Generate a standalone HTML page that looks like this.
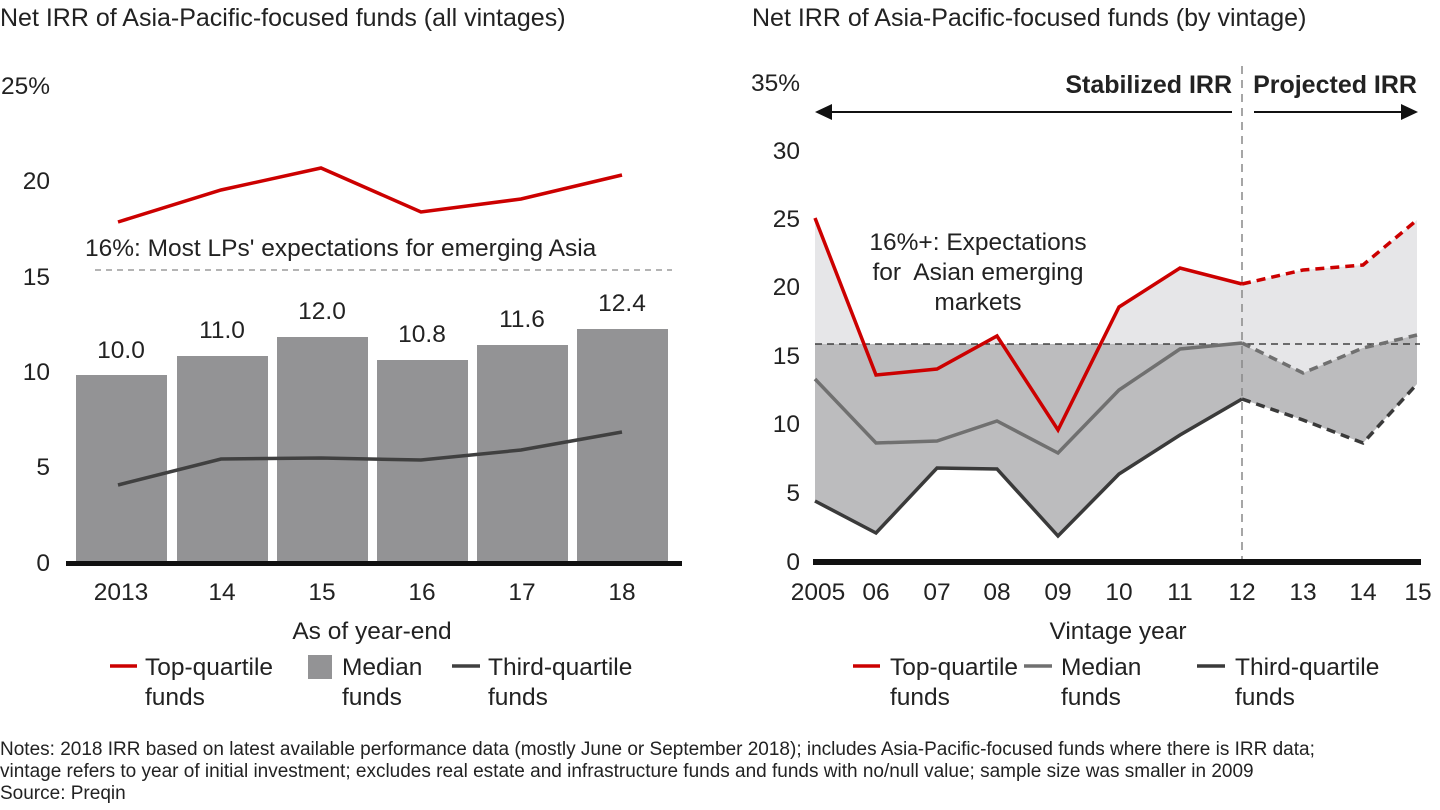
<!DOCTYPE html>
<html><head><meta charset="utf-8"><style>
html,body{margin:0;padding:0;background:#fff}
svg{display:block}
text{font-family:"Liberation Sans",Arial,sans-serif;fill:#222}
</style></head><body>
<svg width="1440" height="810" viewBox="0 0 1440 810" xmlns="http://www.w3.org/2000/svg">
<!-- Left chart -->
<text x="0" y="26" font-size="25">Net IRR of Asia-Pacific-focused funds (all vintages)</text>
<g font-size="24.5" text-anchor="end">
<text x="50" y="94">25%</text><text x="50" y="189">20</text><text x="50" y="285">15</text>
<text x="50" y="380">10</text><text x="50" y="475">5</text><text x="50" y="571">0</text>
</g>
<g fill="#939395">
<rect x="76" y="375" width="91" height="188"/><rect x="177" y="356" width="91" height="207"/>
<rect x="277" y="337" width="91" height="226"/><rect x="377" y="360" width="91" height="203"/>
<rect x="477" y="345" width="91" height="218"/><rect x="577" y="329" width="91" height="234"/>
</g>
<g font-size="24.5" text-anchor="middle">
<text x="121" y="358">10.0</text><text x="222" y="338">11.0</text><text x="322" y="319">12.0</text>
<text x="422" y="342">10.8</text><text x="522" y="327">11.6</text><text x="622" y="311">12.4</text>
</g>
<line x1="95" y1="270" x2="672" y2="270" stroke="#888" stroke-width="1.3" stroke-dasharray="6,5"/>
<text x="85" y="256" font-size="24.5">16%: Most LPs' expectations for emerging Asia</text>
<polyline points="118,222 221,190 321,168 421,212 521,199 622,175" fill="none" stroke="#cc0000" stroke-width="3.5"/>
<polyline points="118,485 221,459 321,458 421,460 521,450 622,432" fill="none" stroke="#404040" stroke-width="3.5"/>
<rect x="66" y="561" width="616" height="5" fill="#111"/>
<g font-size="24.5" text-anchor="middle">
<text x="121" y="600">2013</text><text x="222" y="600">14</text><text x="322" y="600">15</text>
<text x="422" y="600">16</text><text x="522" y="600">17</text><text x="622" y="600">18</text>
<text x="372" y="639">As of year-end</text>
</g>
<g font-size="24.5">
<line x1="110" y1="666" x2="137" y2="666" stroke="#cc0000" stroke-width="3.5"/>
<text x="145" y="675">Top-quartile</text><text x="145" y="705">funds</text>
<rect x="308" y="655" width="24" height="24" fill="#939395"/>
<text x="342" y="675">Median</text><text x="342" y="705">funds</text>
<line x1="452" y1="666" x2="480" y2="666" stroke="#404040" stroke-width="3.5"/>
<text x="488" y="675">Third-quartile</text><text x="488" y="705">funds</text>
</g>

<!-- Right chart -->
<text x="752" y="26" font-size="25">Net IRR of Asia-Pacific-focused funds (by vintage)</text>
<g font-size="24.5" text-anchor="end">
<text x="800" y="91">35%</text><text x="800" y="159">30</text><text x="800" y="227">25</text>
<text x="800" y="295">20</text><text x="800" y="364">15</text><text x="800" y="432">10</text>
<text x="800" y="501">5</text><text x="800" y="570">0</text>
</g>
<polygon points="815,218 876,375 937,369 997,336 1058,430 1119,307 1180,268 1242,284 1303,270 1363,265 1417,220 1417,384 1363,443 1303,420 1242,399 1180,435 1119,474 1058,536 997,469 937,468 876,533 815,501" fill="#e6e6e8"/>
<polygon points="815,344 1242,344 1303,373 1363,348 1417,335 1417,384 1363,443 1303,420 1242,399 1180,435 1119,474 1058,536 997,469 937,468 876,533 815,501" fill="#bcbcbe"/>
<line x1="815" y1="344" x2="1420" y2="344" stroke="#222" stroke-width="1.2" stroke-dasharray="7,5"/>
<line x1="1242" y1="66" x2="1242" y2="560" stroke="#888" stroke-width="1.5" stroke-dasharray="8,6"/>
<polyline points="815,218 876,375 937,369 997,336 1058,430 1119,307 1180,268 1242,284" fill="none" stroke="#cc0000" stroke-width="3.5"/>
<polyline points="1242,284 1303,270 1363,265 1417,220" fill="none" stroke="#cc0000" stroke-width="3.5" stroke-dasharray="9,6"/>
<polyline points="815,379 876,443 937,441 997,421 1058,453 1119,390 1180,349 1242,343" fill="none" stroke="#707070" stroke-width="3.5"/>
<polyline points="1242,343 1303,373 1363,348 1417,335" fill="none" stroke="#707070" stroke-width="3.5" stroke-dasharray="9,6"/>
<polyline points="815,501 876,533 937,468 997,469 1058,536 1119,474 1180,435 1242,399" fill="none" stroke="#3a3a3a" stroke-width="3.5"/>
<polyline points="1242,399 1303,420 1363,443 1417,384" fill="none" stroke="#3a3a3a" stroke-width="3.5" stroke-dasharray="9,6"/>
<rect x="813" y="559" width="608" height="6" fill="#111"/>
<text x="978" y="250" font-size="24.5" text-anchor="middle">16%+: Expectations</text>
<text x="978" y="280" font-size="24.5" text-anchor="middle" xml:space="preserve">for  Asian emerging</text>
<text x="978" y="310" font-size="24.5" text-anchor="middle">markets</text>
<text x="1232" y="93" font-size="25" font-weight="bold" text-anchor="end">Stabilized IRR</text>
<text x="1417" y="93" font-size="25" font-weight="bold" text-anchor="end">Projected IRR</text>
<line x1="828" y1="112" x2="1232" y2="112" stroke="#111" stroke-width="2"/>
<polygon points="815,112 832,104 832,120" fill="#111"/>
<line x1="1254" y1="112" x2="1404" y2="112" stroke="#111" stroke-width="2"/>
<polygon points="1418,112 1401,104 1401,120" fill="#111"/>
<g font-size="24.5" text-anchor="middle">
<text x="818" y="600">2005</text><text x="876" y="600">06</text><text x="937" y="600">07</text>
<text x="997" y="600">08</text><text x="1058" y="600">09</text><text x="1119" y="600">10</text>
<text x="1180" y="600">11</text><text x="1242" y="600">12</text><text x="1303" y="600">13</text>
<text x="1363" y="600">14</text><text x="1418" y="600">15</text>
<text x="1118" y="639">Vintage year</text>
</g>
<g font-size="24.5">
<line x1="853" y1="666" x2="880" y2="666" stroke="#cc0000" stroke-width="3.5"/>
<text x="890" y="675">Top-quartile</text><text x="890" y="705">funds</text>
<line x1="1024" y1="666" x2="1052" y2="666" stroke="#707070" stroke-width="3.5"/>
<text x="1061" y="675">Median</text><text x="1061" y="705">funds</text>
<line x1="1197" y1="666" x2="1225" y2="666" stroke="#3a3a3a" stroke-width="3.5"/>
<text x="1235" y="675">Third-quartile</text><text x="1235" y="705">funds</text>
</g>

<g font-size="19">
<text x="0" y="755">Notes: 2018 IRR based on latest available performance data (mostly June or September 2018); includes Asia-Pacific-focused funds where there is IRR data;</text>
<text x="0" y="777">vintage refers to year of initial investment; excludes real estate and infrastructure funds and funds with no/null value; sample size was smaller in 2009</text>
<text x="0" y="799">Source: Preqin</text>
</g>
</svg>
</body></html>
